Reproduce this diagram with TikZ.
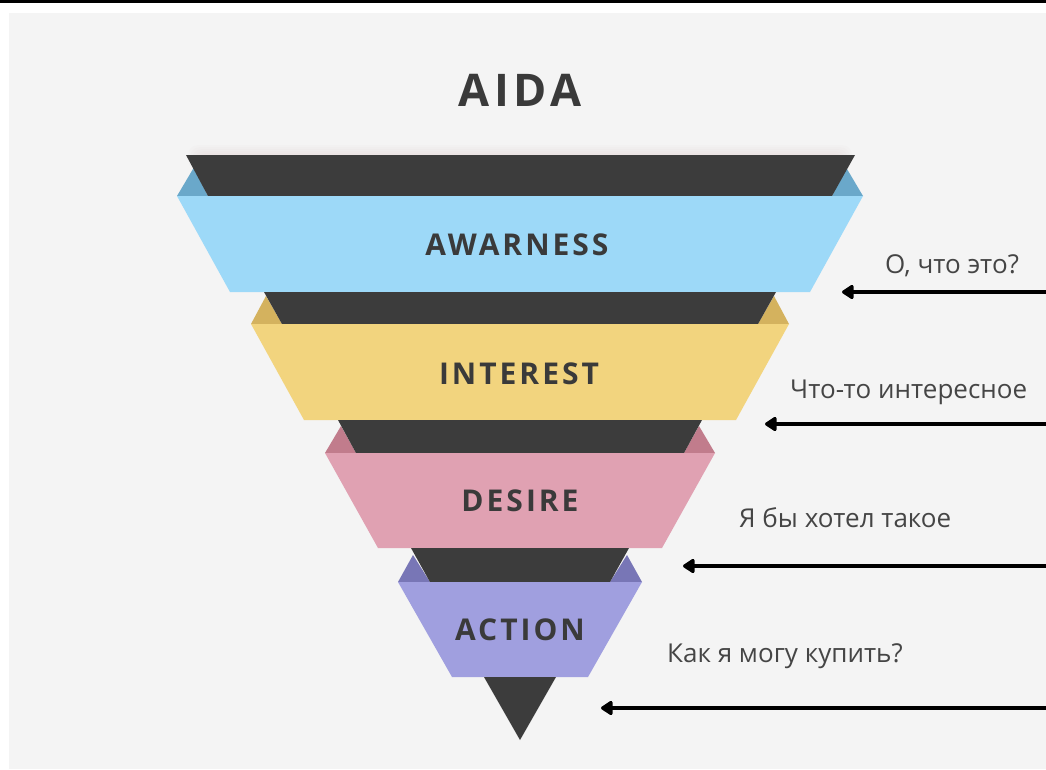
\documentclass[tikz,border=0pt]{standalone}
\usepackage{fontspec}
\usetikzlibrary{arrows.meta}
\setmainfont{Open Sans}
\newfontfamily\labfont[LetterSpace=10]{Open Sans}
\definecolor{bg}{HTML}{F4F4F4}
\definecolor{darkband}{HTML}{3C3C3C}
\definecolor{blueband}{HTML}{9DD9F8}
\definecolor{bluetri}{HTML}{6AA8CA}
\definecolor{yelband}{HTML}{F2D47E}
\definecolor{yeltri}{HTML}{D4B25E}
\definecolor{pinkband}{HTML}{E0A1B2}
\definecolor{pinktri}{HTML}{C17C8C}
\definecolor{purband}{HTML}{A09FDF}
\definecolor{purtri}{HTML}{7876B6}
\definecolor{labtext}{HTML}{3A3A3A}
\definecolor{qtext}{HTML}{454545}
\begin{document}
\begin{tikzpicture}[x=1pt,y=-1pt,
  lab/.style={text=labtext, font=\labfont\bfseries\fontsize{30}{30}\selectfont, anchor=base, inner sep=0pt},
  question/.style={text=qtext, font=\fontsize{26}{26}\selectfont, anchor=base west, inner sep=0pt},
  arr/.style={line width=3.2pt, draw=black, -{Triangle[length=13pt,width=16pt,round]}}]
\useasboundingbox (0,0) rectangle (1046,769);
% page background
\fill[white] (0,0) rectangle (1046,769);
\fill[black] (0,0) rectangle (1046,3);
\fill[bg] (9,13) rectangle (1046,769);
% soft shadow above the funnel
\foreach \i in {1,...,6}{
  \fill[black!40!red, opacity=0.012, rounded corners=10pt] (200-2*\i,157-2*\i) rectangle (840+2*\i,170);
}
% band 1 (blue)
\fill[bluetri] (177,196) -- (193.6,168) -- (208,196) -- cycle;
\fill[bluetri] (863,196) -- (846.4,168) -- (832,196) -- cycle;
\fill[darkband] (186,155) -- (855,155) -- (832,196) -- (208,196) -- cycle;
\fill[blueband] (177,196) -- (863,196) -- (810,292) -- (230,292) -- cycle;
% band 2 (yellow)
\fill[yeltri] (251,324) -- (266,296) -- (282,324) -- cycle;
\fill[yeltri] (789,324) -- (774,296) -- (758,324) -- cycle;
\fill[darkband] (264,292) -- (776,292) -- (758,324) -- (282,324) -- cycle;
\fill[yelband] (251,324) -- (789,324) -- (736,420) -- (304,420) -- cycle;
% band 3 (pink)
\fill[pinktri] (325,453) -- (341,426) -- (356,453) -- cycle;
\fill[pinktri] (715,453) -- (699,426) -- (684,453) -- cycle;
\fill[darkband] (338,420) -- (702,420) -- (684,453) -- (356,453) -- cycle;
\fill[pinkband] (325,453) -- (715,453) -- (662,548) -- (378,548) -- cycle;
% band 4 (purple)
\fill[purtri] (398,582) -- (413,555) -- (430,582) -- cycle;
\fill[purtri] (642,582) -- (627,555) -- (610,582) -- cycle;
\fill[darkband] (411,548) -- (629,548) -- (610,582) -- (430,582) -- cycle;
\fill[purband] (398,582) -- (642,582) -- (588,677) -- (452,677) -- cycle;
% funnel tip
\fill[darkband] (484,677) -- (556,677) -- (520,740) -- cycle;
% labels
\node[lab, font=\labfont\bfseries\fontsize{45}{45}\selectfont] (title) at (520,106) {AIDA};
\node[lab] (awareness) at (517,255) {AWARNESS};
\node[lab] (interest) at (519,384) {INTEREST};
\node[lab] (desire) at (520,511) {DESIRE};
\node[lab] (action) at (520,640) {ACTION};
% questions
\node[question] (q1) at (885,273) {О, что это?};
\node[question] (q2) at (790,398) {Что-то интересное};
\node[question] (q3) at (739,527) {Я бы хотел такое};
\node[question] (q4) at (667,662) {Как я могу купить?};
% arrows
\coordinate (e1) at (1046,292); \coordinate (t1) at (842,292);
\coordinate (e2) at (1046,424); \coordinate (t2) at (765,424);
\coordinate (e3) at (1046,566); \coordinate (t3) at (683,566);
\coordinate (e4) at (1046,708); \coordinate (t4) at (601,708);
\draw[arr] (e1) -- (t1);
\draw[arr] (e2) -- (t2);
\draw[arr] (e3) -- (t3);
\draw[arr] (e4) -- (t4);
\end{tikzpicture}
\end{document}
